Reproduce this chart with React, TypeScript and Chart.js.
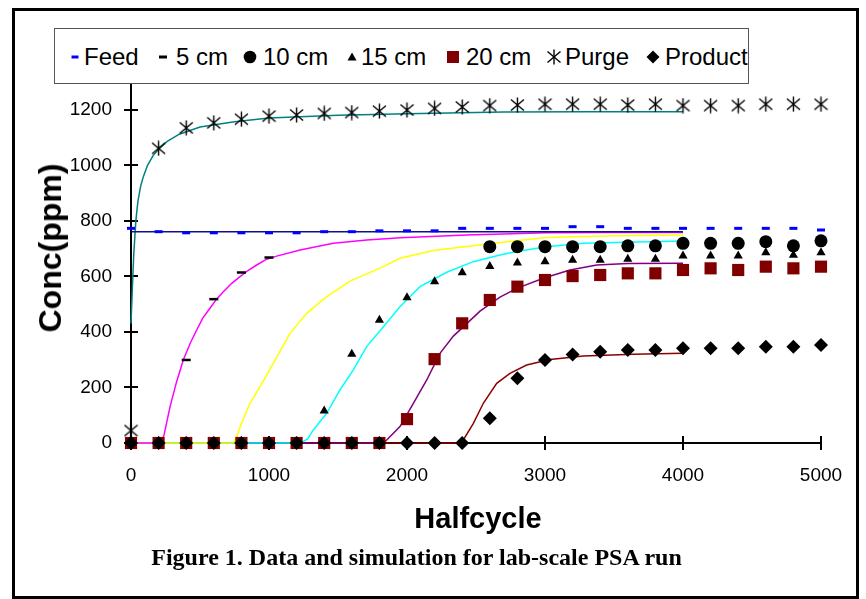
import React, { useEffect, useRef } from "react";
import { Chart, registerables } from "chart.js";

Chart.register(...registerables);

// ---- axis ticks ----
const X_TICKS = [0, 1000, 2000, 3000, 4000, 5000];
const Y_TICKS = [0, 200, 400, 600, 800, 1000, 1200];

// ---- measured data (halfcycle every 200) ----
const HALFCYCLE = [0, 200, 400, 600, 800, 1000, 1200, 1400, 1600, 1800, 2000, 2200, 2400, 2600, 2800, 3000, 3200, 3400, 3600, 3800, 4000, 4200, 4400, 4600, 4800, 5000];
const FEED = [773, 761, 757, 757, 757, 757, 757, 761, 761, 764, 764, 764, 773, 773, 773, 773, 779, 779, 773, 773, 773, 773, 773, 773, 773, 767];
const CM5 = [0, 0, 299, 518, 614, 668, null, null, null, null, null, null, null, null, null, null, null, null, null, null, null, null, null, null, null, null];
const CM10 = [null, null, null, null, null, null, null, null, null, null, null, null, null, 707, 707, 707, 707, 707, 710, 710, 719, 719, 719, 725, 710, 728];
const CM15 = [0, 0, 0, 0, 0, 0, 0, 116, 320, 443, 524, 581, 614, 636, 649, 653, 659, 659, 662, 662, 674, 674, 674, 686, 677, 686];
const CM20 = [0, 0, 0, 0, 0, 0, 0, 0, 0, 0, 86, 302, 431, 515, 563, 587, 601, 605, 611, 611, 623, 629, 623, 635, 629, 635];
const PURGE = [45, 1061, 1135, 1153, 1166, 1177, 1181, 1187, 1190, 1195, 1199, 1205, 1210, 1215, 1217, 1220, 1220, 1220, 1217, 1220, 1215, 1215, 1215, 1220, 1220, 1220];
const PRODUCT = [0, 0, 0, 0, 0, 0, 0, 0, 0, 0, 0, 0, 0, 89, 233, 299, 319, 329, 335, 335, 341, 341, 341, 347, 347, 353];

// ---- simulation curves ----
const FEED_SIM_X = [0, 4000];
const FEED_SIM_Y = [761, 761];
const PURGE_SIM_X = [0, 10, 20, 35, 50, 70, 90, 120, 160, 200, 260, 350, 500, 750, 1000, 1500, 2000, 2700, 3300, 4000];
const PURGE_SIM_Y = [430, 560, 680, 800, 870, 925, 960, 1000, 1035, 1058, 1085, 1112, 1138, 1157, 1170, 1180, 1186, 1192, 1193, 1193];
const CM5_SIM_X = [0, 220, 240, 283, 330, 379, 430, 476, 520, 572, 620, 669, 730, 790, 850, 911, 983, 1056, 1225, 1466, 1708, 1951, 2433, 3012, 3500, 4000];
const CM5_SIM_Y = [0, 0, 30, 131, 220, 299, 360, 407, 450, 485, 518, 545, 575, 599, 622, 641, 662, 673, 695, 719, 731, 739, 749, 757, 758, 758];
const CM10_SIM_X = [0, 740, 766, 800, 862, 935, 1031, 1152, 1273, 1418, 1587, 1829, 1949, 2191, 2674, 3012, 3500, 4000];
const CM10_SIM_Y = [0, 0, 23, 70, 143, 203, 287, 395, 467, 527, 583, 635, 665, 693, 722, 740, 746, 749];
const CM15_SIM_X = [0, 1230, 1280, 1321, 1418, 1514, 1611, 1708, 1829, 1949, 2094, 2288, 2481, 2674, 2795, 3012, 3278, 4000];
const CM15_SIM_Y = [0, 0, 15, 47, 107, 191, 263, 347, 419, 491, 563, 615, 653, 677, 690, 707, 719, 727];
const CM20_SIM_X = [0, 1830, 1853, 1949, 2046, 2143, 2239, 2336, 2433, 2529, 2601, 2674, 2795, 2988, 3181, 3375, 3600, 4000];
const CM20_SIM_Y = [0, 0, 11, 59, 143, 227, 323, 385, 430, 475, 500, 525, 557, 593, 623, 641, 646, 647];
const PRODUCT_SIM_X = [0, 2380, 2408, 2481, 2553, 2650, 2746, 2867, 3036, 3278, 3640, 4000];
const PRODUCT_SIM_Y = [0, 0, 11, 71, 143, 215, 251, 281, 301, 313, 320, 323];

const SANS = "'Liberation Sans', Arial, sans-serif";
const SERIF = "'Liberation Serif', 'Times New Roman', serif";

const pts = (xs: number[], ys: (number | null)[]) => xs.map((x, i) => ({ x, y: ys[i] }));

function makeAsterisk(): HTMLCanvasElement {
  const c = document.createElement("canvas");
  c.width = 15;
  c.height = 16;
  const g = c.getContext("2d")!;
  g.strokeStyle = "#000";
  g.lineWidth = 1.4;
  g.beginPath();
  g.moveTo(7.5, 0.5);
  g.lineTo(7.5, 15.5);
  g.moveTo(1, 2.5);
  g.lineTo(14, 13.5);
  g.moveTo(14, 2.5);
  g.lineTo(1, 13.5);
  g.stroke();
  return c;
}

const tickMarks = {
  id: "tickMarks",
  beforeDatasetsDraw(chart: any) {
    const { ctx, chartArea, scales } = chart;
    ctx.save();
    ctx.strokeStyle = "#000";
    ctx.lineWidth = 2;
    ctx.beginPath();
    X_TICKS.forEach((v) => {
      const px = Math.round(scales.x.getPixelForValue(v));
      ctx.moveTo(px, chartArea.bottom - 7);
      ctx.lineTo(px, chartArea.bottom + 7);
    });
    Y_TICKS.forEach((v) => {
      const py = Math.round(scales.y.getPixelForValue(v));
      ctx.moveTo(chartArea.left - 7, py);
      ctx.lineTo(chartArea.left + 7, py);
    });
    ctx.stroke();
    ctx.restore();
  },
};

function simLine(label: string, xs: number[], ys: number[], color: string) {
  return {
    label,
    data: pts(xs, ys),
    showLine: true,
    borderColor: color,
    backgroundColor: color,
    borderWidth: 1.5,
    pointRadius: 0,
    tension: 0,
    order: 20,
    clip: false as const,
  };
}

function Marker({ cx, cy, kind }: { cx: number; cy: number; kind: string }) {
  const s = 18;
  let inner: any = null;
  if (kind === "dashBlue") inner = <rect x={5.5} y={7.5} width={7} height={3} fill="#0000ff" />;
  if (kind === "dashBlack") inner = <rect x={5} y={7.5} width={8} height={3} fill="#000" />;
  if (kind === "circle") inner = <circle cx={9} cy={9} r={6.3} fill="#000" />;
  if (kind === "triangle") inner = <polygon points="9,4.5 13.5,12.5 4.5,12.5" fill="#000" />;
  if (kind === "square") inner = <rect x={3} y={3} width={12} height={12} fill="#800000" />;
  if (kind === "diamond") inner = <polygon points="9,2.5 15.5,9 9,15.5 2.5,9" fill="#000" />;
  if (kind === "asterisk")
    inner = (
      <g stroke="#000" strokeWidth={1.4}>
        <line x1={9} y1={1.5} x2={9} y2={16.5} />
        <line x1={2.5} y1={3.5} x2={15.5} y2={14.5} />
        <line x1={15.5} y1={3.5} x2={2.5} y2={14.5} />
      </g>
    );
  return (
    <svg width={s} height={s} style={{ position: "absolute", left: cx - s / 2, top: cy - s / 2 }}>
      {inner}
    </svg>
  );
}

const LEGEND_ITEMS = [
  { label: "Feed", kind: "dashBlue", mx: 74.5, tx: 84 },
  { label: "5 cm", kind: "dashBlack", mx: 162.5, tx: 176 },
  { label: "10 cm", kind: "circle", mx: 250, tx: 263 },
  { label: "15 cm", kind: "triangle", mx: 351.5, tx: 361 },
  { label: "20 cm", kind: "square", mx: 452.5, tx: 466 },
  { label: "Purge", kind: "asterisk", mx: 554, tx: 565 },
  { label: "Product", kind: "diamond", mx: 652.5, tx: 665 },
];

export default function App() {
  const ref = useRef<HTMLCanvasElement>(null);

  useEffect(() => {
    if (!ref.current) return;
    const asterisk = makeAsterisk();
    const chart = new Chart(ref.current, {
      type: "scatter",
      data: {
        datasets: [
          { label: "Product", data: pts(HALFCYCLE, PRODUCT), pointStyle: "rectRot", pointRadius: 7, backgroundColor: "#000", borderColor: "#000", borderWidth: 0, order: 1, clip: false },
          { label: "20 cm", data: pts(HALFCYCLE, CM20), pointStyle: "rect", pointRadius: 8.6, backgroundColor: "#800000", borderColor: "#800000", borderWidth: 0, order: 2, clip: false },
          { label: "15 cm", data: pts(HALFCYCLE, CM15), pointStyle: "triangle", pointRadius: 5.3, backgroundColor: "#000", borderColor: "#000", borderWidth: 0, order: 3, clip: false },
          { label: "10 cm", data: pts(HALFCYCLE, CM10), pointStyle: "circle", pointRadius: 6.5, backgroundColor: "#000", borderColor: "#000", borderWidth: 0, order: 4, clip: false },
          { label: "5 cm", data: pts(HALFCYCLE, CM5), pointStyle: "line", pointRadius: 4.5, backgroundColor: "#000", borderColor: "#000", borderWidth: 2.5, order: 5, clip: false },
          { label: "Feed", data: pts(HALFCYCLE, FEED), pointStyle: "line", pointRadius: 4, backgroundColor: "#0000ff", borderColor: "#0000ff", borderWidth: 3, order: 6, clip: false },
          { label: "Purge", data: pts(HALFCYCLE, PURGE), pointStyle: asterisk, pointRadius: 8, order: 7, clip: false },
          simLine("Feed sim", FEED_SIM_X, FEED_SIM_Y, "#101090"),
          simLine("5 cm sim", CM5_SIM_X, CM5_SIM_Y, "#ff00ff"),
          simLine("10 cm sim", CM10_SIM_X, CM10_SIM_Y, "#ffff00"),
          simLine("15 cm sim", CM15_SIM_X, CM15_SIM_Y, "#00ffff"),
          simLine("20 cm sim", CM20_SIM_X, CM20_SIM_Y, "#800080"),
          simLine("Product sim", PRODUCT_SIM_X, PRODUCT_SIM_Y, "#8b0000"),
          simLine("Purge sim", PURGE_SIM_X, PURGE_SIM_Y, "#008080"),
        ] as any,
      },
      options: {
        responsive: false,
        devicePixelRatio: 1,
        animation: false,
        events: [],
        layout: { padding: { left: 0, top: 82, right: 45, bottom: 0 } },
        plugins: { legend: { display: false }, tooltip: { enabled: false }, title: { display: false } },
        scales: {
          x: {
            type: "linear",
            min: 0,
            max: 5000,
            afterBuildTicks: (s: any) => {
              s.ticks = X_TICKS.map((v) => ({ value: v }));
            },
            afterFit: (s: any) => {
              s.height = 156;
            },
            ticks: { padding: 21, color: "#000", maxRotation: 0, font: { family: SANS, size: 19 }, callback: (v: any) => String(v) },
            grid: { display: true, drawOnChartArea: false, drawTicks: false },
            border: { color: "#000", width: 2 },
          },
          y: {
            type: "linear",
            min: 0,
            max: 1300,
            afterBuildTicks: (s: any) => {
              s.ticks = Y_TICKS.map((v) => ({ value: v }));
            },
            afterFit: (s: any) => {
              s.width = 131;
            },
            ticks: { padding: 19, color: "#000", font: { family: SANS, size: 19 }, callback: (v: any) => String(v) },
            grid: { display: true, drawOnChartArea: false, drawTicks: false },
            border: { color: "#000", width: 2 },
          },
        },
      } as any,
      plugins: [tickMarks],
    });
    return () => chart.destroy();
  }, []);

  return (
    <div style={{ position: "absolute", left: 0, top: 0, width: 866, height: 599, background: "#fff", overflow: "hidden" }}>
      <canvas ref={ref} width={866} height={599} style={{ position: "absolute", left: 0, top: 0 }} />
      <div
        style={{
          position: "absolute",
          left: 12,
          top: 8,
          width: 847,
          height: 591,
          border: "3px solid #000",
          boxSizing: "border-box",
          pointerEvents: "none",
        }}
      />
      <div
        style={{
          position: "absolute",
          left: 54,
          top: 28,
          width: 695,
          height: 56,
          border: "1px solid #555",
          boxSizing: "border-box",
          background: "#fff",
        }}
      />
      {LEGEND_ITEMS.map((it) => (
        <React.Fragment key={it.label}>
          <Marker cx={it.mx} cy={57} kind={it.kind} />
          <div
            style={{
              position: "absolute",
              left: it.tx,
              top: 45,
              fontFamily: SANS,
              fontSize: 24,
              lineHeight: "24px",
              color: "#000",
              whiteSpace: "nowrap",
            }}
          >
            {it.label}
          </div>
        </React.Fragment>
      ))}
      <div
        style={{
          position: "absolute",
          left: 50,
          top: 247.5,
          transform: "translate(-50%, -50%) rotate(-90deg)",
          fontFamily: SANS,
          fontWeight: "bold",
          fontSize: 32,
          lineHeight: "32px",
          whiteSpace: "nowrap",
          color: "#000",
        }}
      >
        Conc(ppm)
      </div>
      <div
        style={{
          position: "absolute",
          left: 478,
          top: 518,
          transform: "translate(-50%, -50%)",
          fontFamily: SANS,
          fontWeight: "bold",
          fontSize: 29,
          lineHeight: "29px",
          whiteSpace: "nowrap",
          color: "#000",
        }}
      >
        Halfcycle
      </div>
      <div
        style={{
          position: "absolute",
          left: 416.5,
          top: 556.5,
          transform: "translate(-50%, -50%)",
          fontFamily: SERIF,
          fontWeight: "bold",
          fontSize: 24,
          lineHeight: "24px",
          whiteSpace: "nowrap",
          color: "#000",
        }}
      >
        Figure 1. Data and simulation for lab-scale PSA run
      </div>
    </div>
  );
}
